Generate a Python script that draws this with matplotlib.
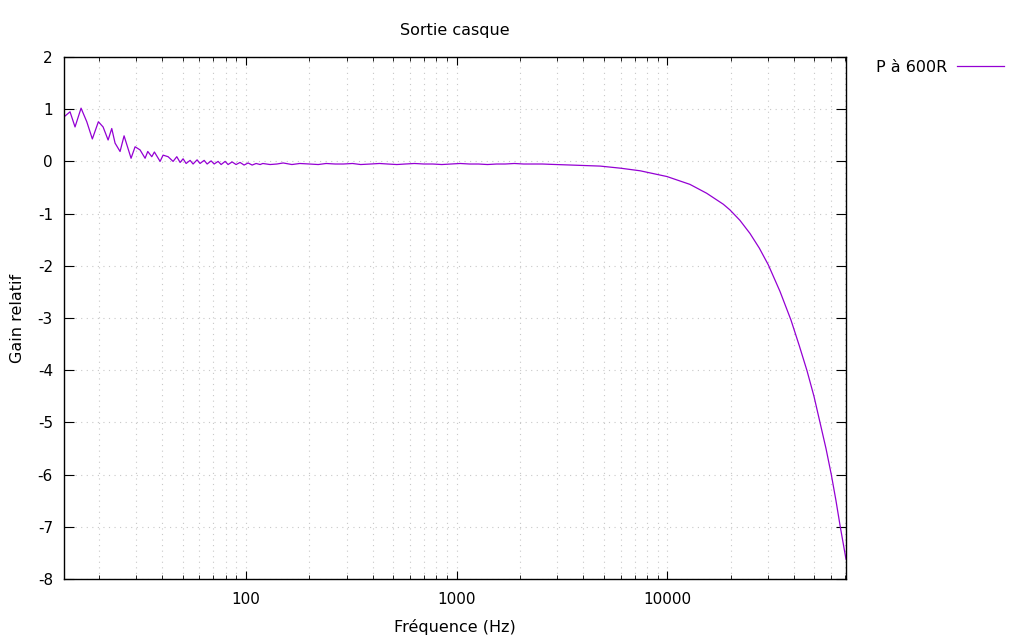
import matplotlib
matplotlib.use('Agg')
import matplotlib.pyplot as plt
from matplotlib.ticker import LogLocator, FixedLocator, NullFormatter, FuncFormatter

plt.rcParams['font.family'] = ['DejaVu Sans']
plt.rcParams['axes.unicode_minus'] = False

# Frequency (Hz) and relative gain
freq = [13.81, 14.58, 15.40, 16.45, 17.51, 18.61, 19.88, 20.93, 22.11, 23.01,
        23.86, 25.20, 26.33, 28.42, 29.70, 31.36, 33.13, 34.12, 35.65, 36.68,
        39.04, 40.34, 42.61, 45.00, 46.86, 48.59, 50.2, 51.9, 54.2, 56.0,
        58.5, 60.4, 63.2, 65.3, 68.2, 70.5, 73.6, 76.1, 79.5, 82.1,
        85.8, 89.6, 93.6, 97.8, 102.2, 106.8, 111.6, 116.6,
        120, 130, 140, 150, 165, 180, 200, 220, 240, 265, 290, 320, 350, 390,
        430, 470, 520, 570, 630, 700, 770, 850, 940, 1040, 1150, 1270, 1400,
        1550, 1700, 1880, 2080, 2300, 2550, 2781,
        3500, 4805, 6000, 7441, 9967, 12815, 15388, 18452, 19862, 22152,
        24711, 27361, 30185, 34311, 38700, 42370, 46110, 49760, 53140,
        56750, 60140, 63300, 66340, 70630]
gain = [0.87, 0.95, 0.66, 1.02, 0.76, 0.43, 0.76, 0.66, 0.41, 0.63,
        0.35, 0.19, 0.49, 0.06, 0.28, 0.22, 0.06, 0.19, 0.09, 0.18,
        0.0, 0.12, 0.09, 0.0, 0.09, -0.02, 0.05, -0.04, 0.02, -0.05,
        0.03, -0.04, 0.02, -0.05, 0.01, -0.05, 0.0, -0.06, 0.0, -0.06,
        -0.01, -0.06, -0.02, -0.07, -0.03, -0.07, -0.04, -0.06,
        -0.04, -0.06, -0.05, -0.03, -0.06, -0.04, -0.05, -0.06, -0.04, -0.05,
        -0.05, -0.04, -0.06, -0.05, -0.04, -0.05, -0.06, -0.05, -0.04, -0.05,
        -0.05, -0.06, -0.05, -0.04, -0.05, -0.05, -0.06, -0.05, -0.05, -0.04,
        -0.05, -0.05, -0.05, -0.056,
        -0.07, -0.09, -0.13, -0.18, -0.29, -0.44, -0.61, -0.82, -0.93, -1.13,
        -1.38, -1.66, -1.98, -2.49, -3.04, -3.53, -4.01, -4.50, -5.00,
        -5.50, -6.00, -6.50, -7.00, -7.62]

y_ticks = [2, 1, 0, -1, -2, -3, -4, -5, -6, -7, -8]
x_major = [100, 1000, 10000]

fig = plt.figure(figsize=(10.24, 6.4), dpi=100)
ax = fig.add_axes([64 / 1024, 1 - 579 / 640, (846 - 64) / 1024, (579 - 57) / 640])

ax.plot(freq, gain, color='#9400d3', linewidth=0.9, label='P à 600R')

ax.set_xscale('log')
ax.set_xlim(13.65, 70630)
ax.set_ylim(-8, 2)

ax.xaxis.set_major_locator(FixedLocator(x_major))
ax.xaxis.set_major_formatter(FuncFormatter(lambda v, p: '%d' % v))
ax.xaxis.set_minor_locator(LogLocator(base=10, subs=range(2, 10), numticks=20))
ax.xaxis.set_minor_formatter(NullFormatter())
ax.set_yticks(y_ticks)

ax.tick_params(axis='both', which='both', direction='in', top=True, right=True,
               labelsize=11, color='black')
ax.tick_params(axis='x', which='major', length=6, pad=9)
ax.tick_params(axis='x', which='minor', length=3)
ax.tick_params(axis='y', which='major', length=7, pad=8)

ax.grid(True, which='major', axis='both', color='#c8c8c8', linestyle=(0, (1, 4)), linewidth=0.8)
ax.grid(True, which='minor', axis='x', color='#c8c8c8', linestyle=(0, (1, 4)), linewidth=0.8)

for s in ax.spines.values():
    s.set_linewidth(1.0)
    s.set_color('black')

ax.set_xlabel('Fréquence (Hz)', fontsize=11.5, labelpad=9)
ax.set_ylabel('Gain relatif', fontsize=11.5, labelpad=9)
fig.text(455 / 1024, 1 - 30 / 640, 'Sortie casque', ha='center', va='center', fontsize=11.5)

fig.legend(loc='center left', bbox_to_anchor=(876 / 1024, 1 - 67 / 640), frameon=False,
           markerfirst=False, fontsize=11.5, handlelength=2.95, handletextpad=0.63,
           borderpad=0, borderaxespad=0)

fig.savefig('out.png', dpi=100)
